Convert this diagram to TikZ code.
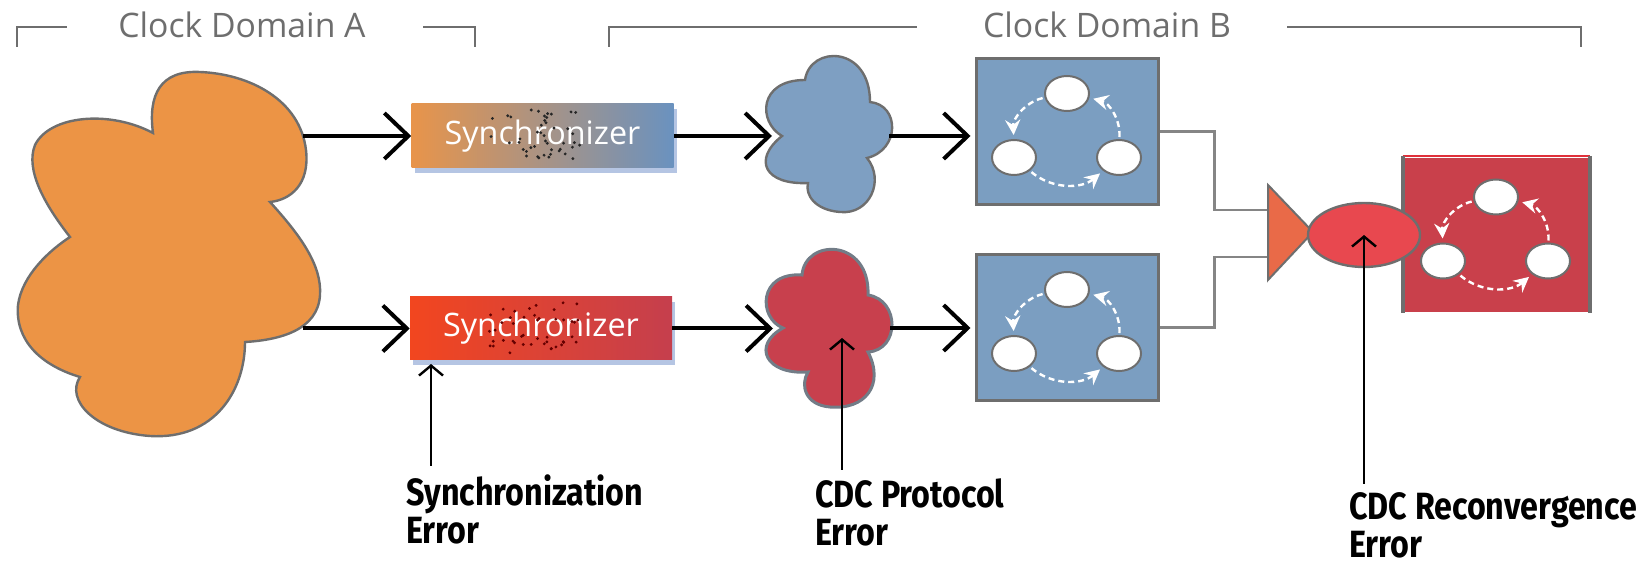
\documentclass[tikz,border=0pt]{standalone}
\usepackage{fontspec}
\setmainfont{Open Sans}
\newfontfamily\errfont[FakeStretch=0.85]{Fira Sans}
\usetikzlibrary{arrows.meta,shadows,shapes.geometric}
\definecolor{domaingray}{HTML}{6E6E6E}
\definecolor{edgegray}{HTML}{6E6E6E}
\definecolor{wiregray}{HTML}{858585}
\definecolor{cloudorange}{HTML}{EC9445}
\definecolor{cloudblue}{HTML}{7E9FC2}
\definecolor{cloudred}{HTML}{C8404D}
\definecolor{fsmblue}{HTML}{7B9EC1}
\definecolor{fsmred}{HTML}{C9404B}
\definecolor{topred}{HTML}{E0303A}
\definecolor{syncorange}{HTML}{E8944A}
\definecolor{syncmid}{HTML}{A38C7E}
\definecolor{syncblue}{HTML}{6A92BF}
\definecolor{syncred}{HTML}{F2461F}
\definecolor{syncredend}{HTML}{C53F4D}
\definecolor{mergeorange}{HTML}{E96A48}
\definecolor{mergered}{HTML}{E8484F}
\definecolor{shadowblue}{HTML}{5A7FC0}
\begin{document}
\begin{tikzpicture}[x=0.25mm, y=-0.25mm,
  >={Straight Barb[length=6mm,width=11.5mm]},
  flow/.style={->, line width=1mm},
  callout/.style={-{Straight Barb[length=2.5mm,width=6mm]}, line width=0.6mm},
  wire/.style={draw=wiregray, line width=0.6mm},
  bracket/.style={draw=domaingray, line width=0.6mm},
  domlabel/.style={text=domaingray, font=\fontsize{24}{24}\selectfont},
  sync/.style={minimum width=65.5mm, minimum height=16mm, inner sep=0, text=white,
    font=\fontsize{23}{23}\selectfont,
    drop shadow={shadow xshift=0.8mm, shadow yshift=-1.2mm, fill=shadowblue, opacity=0.45}},
  blob/.style={draw=edgegray, line width=0.6mm},
  fsm/.style={draw=edgegray, line width=0.75mm, minimum width=45.5mm, minimum height=36.5mm, inner sep=0},
  fsmstate/.style={ellipse, draw=edgegray, fill=white, line width=0.5mm,
    minimum width=11mm, minimum height=8.75mm, inner sep=0},
  loopedge/.style={-{Stealth[length=3.8mm,width=3.8mm,inset=1.3mm]}, white, line width=0.6mm,
    dash pattern=on 1.5mm off 1mm, bend right=40, shorten <=0.5mm, shorten >=1mm},
  errlabel/.style={anchor=north west, inner sep=0, align=left,
    font=\errfont\bfseries\fontsize{27}{27}\selectfont}]
\useasboundingbox (0,0) rectangle (1642,566);

\node[domlabel] (domA) at (242,25) {Clock Domain A};
\node[domlabel] (domB) at (1107,25) {Clock Domain B};
\draw[bracket] (17,47) -- (17,27) -- (67,27) (423,27) -- (475,27) -- (475,47);
\draw[bracket] (609,47) -- (609,27) -- (917,27) (1287,27) -- (1581,27) -- (1581,47);

\filldraw[blob, fill=cloudorange] (153,133) .. controls (148,95) and (160,70) .. (200,72)
  .. controls (250,74) and (300,100) .. (306,150)
  .. controls (310,185) and (290,200) .. (270,202)
  .. controls (300,235) and (322,265) .. (320,295)
  .. controls (318,330) and (280,340) .. (245,342)
  .. controls (245,390) and (215,440) .. (150,436)
  .. controls (95,432) and (65,400) .. (80,377)
  .. controls (40,365) and (15,340) .. (18,305)
  .. controls (22,275) and (50,250) .. (70,237)
  .. controls (45,205) and (25,170) .. (35,145)
  .. controls (50,115) and (110,110) .. cycle;
\coordinate (srcA-1) at (303,136);
\coordinate (srcA-2) at (303,328.5);

\filldraw[blob, fill=cloudblue] (782,136) .. controls (758,122) and (758,80) .. (805,80)
  .. controls (810,45) and (870,45) .. (870,102)
  .. controls (900,105) and (900,150) .. (867,158)
  .. controls (885,180) and (870,215) .. (840,212)
  .. controls (815,210) and (805,195) .. (808,183)
  .. controls (765,185) and (752,160) .. cycle;
\coordinate (cloudB-in) at (782,136);
\coordinate (cloudB-out) at (889,136);

\filldraw[blob, draw=edgegray!70!fsmblue, line width=0.75mm, fill=cloudred] (783,328) .. controls (758,318) and (758,272) .. (802,275)
  .. controls (805,238) and (870,238) .. (868,295)
  .. controls (900,300) and (900,350) .. (868,352)
  .. controls (885,385) and (865,410) .. (830,407)
  .. controls (805,405) and (800,385) .. (808,372)
  .. controls (765,375) and (752,345) .. cycle;
\coordinate (cloudR-in) at (783,328.5);
\coordinate (cloudR-out) at (890,328);
\coordinate (cloudR-err) at (842,338);

\node[sync, left color=syncorange, middle color=syncmid, right color=syncblue] (syncA) at (542.5,136) {Synchronizer};
\node[sync, left color=syncred, right color=syncredend, minimum height=15.75mm] (syncB) at (541,328.5) {Synchronizer};
\pgfmathsetseed{11}
\foreach \i in {1,...,45}
  \fill[black!85] ([shift={(-7+45*rand,26*rand)}]syncA.center) circle (0.4mm);
\foreach \i in {1,...,45}
  \fill[black!60!red] ([shift={(-7+45*rand,26*rand)}]syncB.center) circle (0.4mm);

\node[fsm, fill=fsmblue] (fsmA) at (1067,131.5) {};
\node[fsm, fill=fsmblue] (fsmB) at (1067,327.5) {};
\node[fsm, fill=fsmred, draw=none, minimum width=46mm, minimum height=38.5mm] (fsmC) at (1496,235) {};
\draw[topred, line width=0.5mm] (fsmC.north west) -- (fsmC.north east);
\draw[edgegray, line width=1mm] (fsmC.north west) -- (fsmC.south west) (fsmC.north east) -- (fsmC.south east);
\foreach \b in {fsmA,fsmB,fsmC} {
  \node[fsmstate] (\b-1) at ([yshift=9.5mm]\b.center) {};
  \node[fsmstate] (\b-2) at ([xshift=-13.25mm, yshift=-6.5mm]\b.center) {};
  \node[fsmstate] (\b-3) at ([xshift=13mm, yshift=-6.5mm]\b.center) {};
  \draw[loopedge] (\b-1) to (\b-2);
  \draw[loopedge] (\b-2) to (\b-3);
  \draw[loopedge] (\b-3) to (\b-1);
}

\draw[flow] (srcA-1) -- (syncA.west);
\draw[flow] (srcA-2) -- (syncB.west);
\draw[flow, shorten >=2.5mm] (syncA.east) -- (cloudB-in);
\draw[flow, shorten >=2.5mm] (syncB.east) -- (cloudR-in);
\draw[flow, shorten >=1mm] (cloudB-out) -- (cloudB-out -| fsmA.west);
\draw[flow, shorten >=1mm] (cloudR-out) -- (cloudR-out -| fsmB.west);

\coordinate (merge-1) at (1268,210);
\coordinate (merge-2) at (1268,257);
\draw[wire] (fsmA.east) -- ++(55,0) |- (merge-1);
\draw[wire] (fsmB.east) -- ++(55,0) |- (merge-2);
\filldraw[fill=mergeorange, draw=edgegray, line width=0.5mm] (1268,185) -- (1313,232) -- (1268,280) -- cycle;
\node[ellipse, draw=edgegray, fill=mergered, line width=0.6mm, minimum width=28mm, minimum height=16mm, inner sep=0] (reconv) at (1364,235) {};

\node[errlabel] (syncErr) at (406,474) {Synchronization\\Error};
\node[errlabel] (protoErr) at (815,478) {CDC Protocol\\Error};
\node[errlabel] (reconvErr) at (1349,492) {CDC Reconvergence\\Error};
\coordinate (syncB-err) at (431,364);
\coordinate (syncErr-top) at ([yshift=2mm]syncErr.north west);
\coordinate (protoErr-top) at ([yshift=2mm]protoErr.north west);
\coordinate (reconvErr-top) at ([yshift=2mm]reconvErr.north west);
\draw[callout] (syncErr-top -| syncB-err) -- (syncB-err);
\draw[callout] (protoErr-top -| cloudR-err) -- (cloudR-err);
\draw[callout] (reconvErr-top -| reconv.center) -- (reconv.center);
\end{tikzpicture}
\end{document}
